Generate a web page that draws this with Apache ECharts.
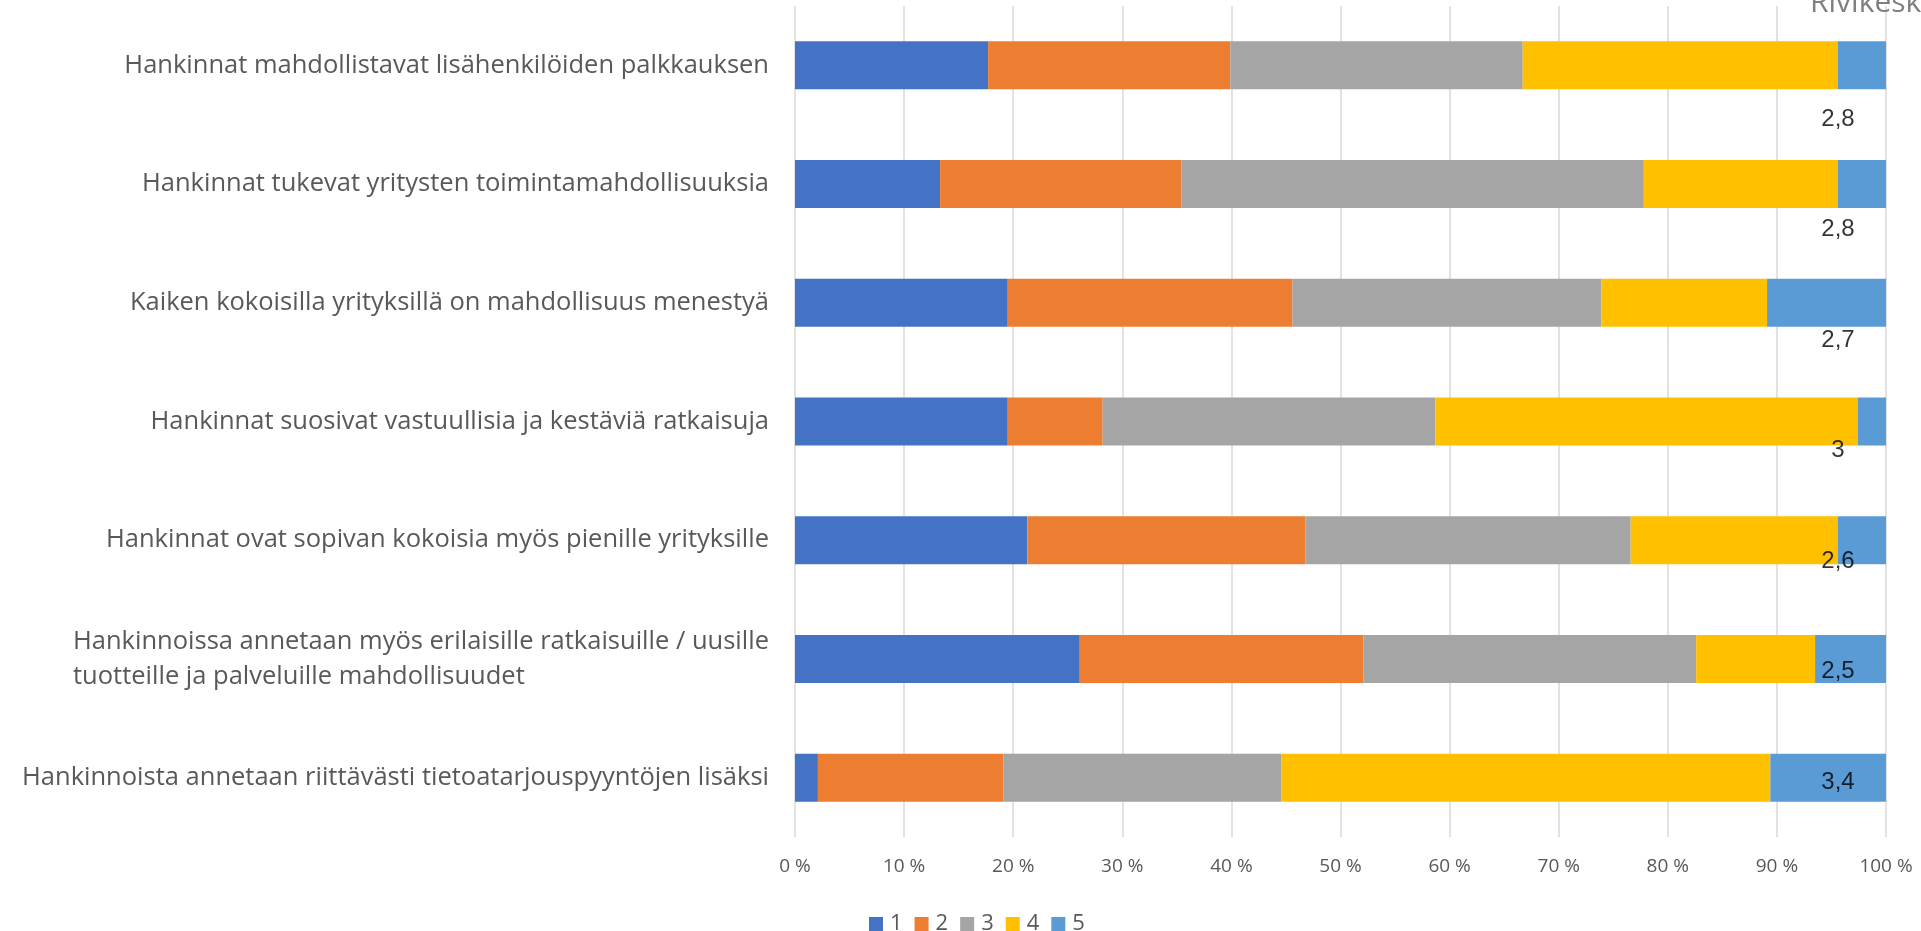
<!DOCTYPE html>
<html>
<head>
<meta charset="utf-8">
<script src="https://cdn.jsdelivr.net/npm/echarts@6/dist/echarts.min.js"></script>
<style>
html,body{margin:0;padding:0;background:#fff;}
#c{width:1921px;height:931px;}
</style>
</head>
<body>
<div id="c"></div>
<script>
const categories = [
  'Hankinnat mahdollistavat lisähenkilöiden palkkauksen',
  'Hankinnat tukevat yritysten toimintamahdollisuuksia',
  'Kaiken kokoisilla yrityksillä on mahdollisuus menestyä',
  'Hankinnat suosivat vastuullisia ja kestäviä ratkaisuja',
  'Hankinnat ovat sopivan kokoisia myös pienille yrityksille',
  'Hankinnoissa annetaan myös erilaisille ratkaisuille / uusille\ntuotteille ja palveluille mahdollisuudet',
  'Hankinnoista annetaan riittävästi tietoatarjouspyyntöjen lisäksi'
];
const seriesNames = ['1', '2', '3', '4', '5'];
const s1 = [17.7, 13.3, 19.5, 19.5, 21.3, 26.1, 2.1];
const s2 = [22.2, 22.1, 26.1, 8.7, 25.5, 26.0, 17.0];
const s3 = [26.8, 42.4, 28.3, 30.5, 29.8, 30.5, 25.5];
const s4 = [28.9, 17.8, 15.2, 38.7, 19.0, 10.9, 44.8];
const s5 = [4.4, 4.4, 10.9, 2.6, 4.4, 6.5, 10.6];
const averages = [2.8, 2.8, 2.7, 3.0, 2.6, 2.5, 3.4];
const xTicks = [0, 10, 20, 30, 40, 50, 60, 70, 80, 90, 100];
const colors = ['#4472C4', '#ED7D31', '#A5A5A5', '#FFC000', '#5B9BD5'];

const labelFontSize = 25.5;
const labelFont = labelFontSize + 'px "Open Sans"';

function measure(text) {
  const cv = document.createElement('canvas').getContext('2d');
  cv.font = labelFont;
  return cv.measureText(text).width;
}

const seriesValues = [s1, s2, s3, s4, s5];
const totals = categories.map((_, i) => seriesValues.reduce((a, s) => a + s[i], 0));

const chart = echarts.init(document.getElementById('c'), null, {renderer: 'canvas'});

const barSeries = seriesValues.map((vals, k) => ({
  name: seriesNames[k],
  type: 'bar',
  stack: 'total',
  xAxisIndex: 0,
  yAxisIndex: 0,
  barWidth: 48,
  itemStyle: {color: colors[k]},
  data: vals
}));

document.fonts && document.fonts.load(labelFont).then(draw, draw);
function draw() {
  const option = {
    animation: false,
    color: colors,
    title: {
      text: 'Rivikeskiarvo',
      left: 1810,
      top: -12,
      padding: 0,
      textStyle: {color: '#7f7f7f', fontSize: 30, fontWeight: 'normal', fontFamily: 'Open Sans'}
    },
    legend: {
      data: seriesNames,
      left: 869,
      top: 913,
      padding: 0,
      itemWidth: 14,
      itemHeight: 14,
      itemGap: 12,
      icon: 'rect',
      textStyle: {color: '#595959', fontSize: 22, lineHeight: 22, fontFamily: 'Open Sans', padding: [0, 0, 0, 2]}
    },
    grid: [
      {left: 795, right: 35, top: 6, bottom: 94, containLabel: false},
      {left: 795, right: 35, top: 119, bottom: 149, containLabel: false}
    ],
    xAxis: [
      {
        type: 'value', gridIndex: 0, min: 0, max: 100, interval: 10,
        axisLine: {show: false}, axisTick: {show: false},
        splitLine: {show: true, lineStyle: {color: '#d9d9d9', width: 1.5}},
        axisLabel: {
          color: '#595959', fontSize: 19, fontFamily: 'Open Sans', margin: 20,
          formatter: v => xTicks.includes(v) ? v + ' %' : ''
        }
      },
      {
        type: 'value', gridIndex: 1, min: 0, max: 100, show: false
      }
    ],
    yAxis: [
      {
        type: 'category', gridIndex: 0, data: categories, inverse: true,
        axisLine: {show: false}, axisTick: {show: false},
        axisLabel: {
          color: '#595959', fontSize: labelFontSize, fontFamily: 'Open Sans', margin: 26,
          formatter: function (v) {
            if (v.indexOf('\n') < 0) return v;
            const lines = v.split('\n');
            return lines.map(l => '{l|' + l + '}').join('\n');
          },
          rich: {
            l: {
              color: '#595959', fontSize: labelFontSize, fontFamily: 'Open Sans', align: 'left',
              lineHeight: 35,
              width: Math.ceil(Math.max.apply(null, categories[5].split('\n').map(measure)))
            }
          }
        }
      },
      {
        type: 'category', gridIndex: 1, data: categories, inverse: true,
        boundaryGap: false, show: false
      }
    ],
    series: barSeries.concat([{
      name: 'Rivikeskiarvo',
      type: 'scatter',
      xAxisIndex: 1,
      yAxisIndex: 1,
      symbolSize: 0,
      silent: true,
      data: totals.map((t, i) => [t, i, averages[i]]),
      label: {
        show: true,
        position: 'inside',
        offset: [-48, 0],
        align: 'center',
        verticalAlign: 'middle',
        color: '#000',
        fontSize: 24,
        fontFamily: 'Liberation Sans',
        formatter: p => String(p.value[2]).replace('.', ',')
      }
    }])
  };
  chart.setOption(option);
}
</script>
</body>
</html>
